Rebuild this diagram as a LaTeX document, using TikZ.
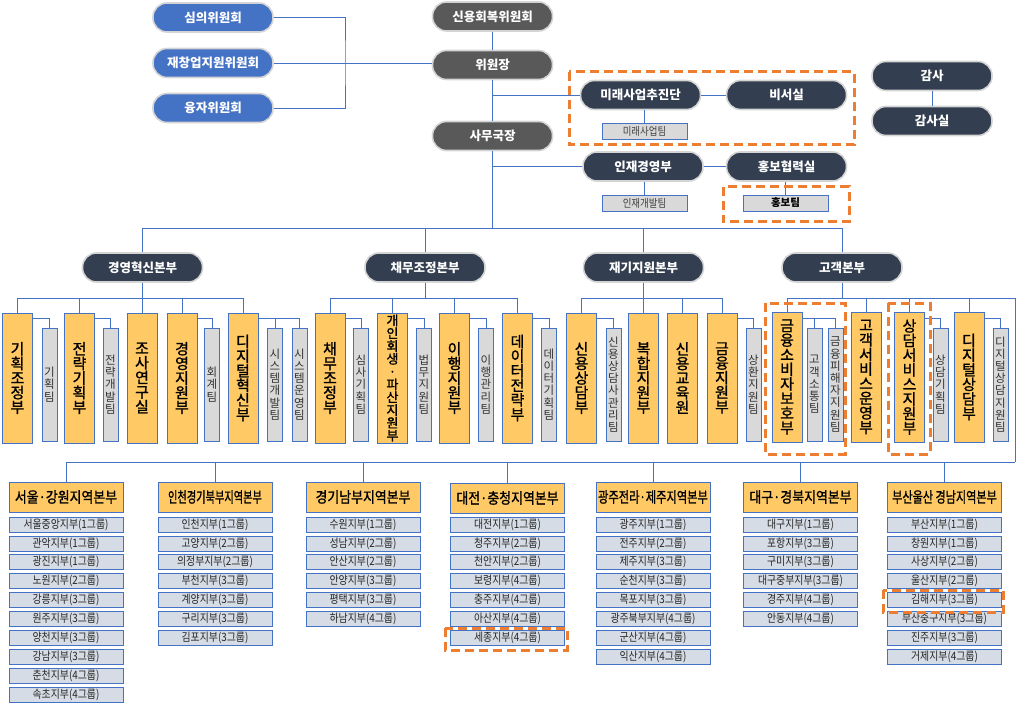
\documentclass[tikz,border=0pt]{standalone}
\usepackage{fontspec}
\newfontfamily\kr{Noto Sans CJK KR}
\newfontfamily\krm[FakeBold=1.2]{Noto Sans CJK KR}
\newfontfamily\krn[FakeStretch=0.86]{Noto Sans CJK KR}
\newcommand\hs[2]{\scalebox{#1}[1]{#2}}
\definecolor{lnblue}{HTML}{4472C4}
\definecolor{pblue}{HTML}{4472C4}
\definecolor{pgray}{HTML}{595959}
\definecolor{pnavy}{HTML}{333F50}
\definecolor{ygold}{HTML}{FFC966}
\definecolor{tgray}{HTML}{D9D9D9}
\definecolor{bgray}{HTML}{D6DCE5}
\definecolor{odash}{HTML}{ED7D31}
\definecolor{pedge}{HTML}{D4D4D4}
\begin{document}
\begin{tikzpicture}[x=1pt,y=-1pt,
 conn/.style={draw=lnblue, line width=0.8pt},
 pill/.style={rectangle, rounded corners=14pt, draw=pedge, line width=1.6pt, minimum width=120pt, minimum height=29pt, inner sep=0pt, text=white, font=\kr\bfseries\fontsize{12.5}{14}\selectfont},
 bluepill/.style={pill, fill=pblue},
 graypill/.style={pill, fill=pgray},
 navypill/.style={pill, fill=pnavy},
 smallteam/.style={rectangle, draw=lnblue, line width=0.8pt, fill=tgray, minimum width=85pt, minimum height=16pt, inner sep=0pt, font=\krn\fontsize{11}{12}\selectfont, text=black!75},
 dept/.style={rectangle, draw=lnblue, line width=0.8pt, fill=ygold, minimum width=30pt, minimum height=130pt, inner sep=0pt, align=center, font=\krm\fontsize{15}{14.6}\selectfont},
 team/.style={rectangle, draw=lnblue, line width=0.8pt, fill=tgray, minimum width=15pt, minimum height=113pt, inner sep=0pt, align=center, font=\kr\fontsize{11.5}{12.2}\selectfont, text=black!80},
 region/.style={rectangle, draw=lnblue, line width=0.8pt, fill=ygold, minimum width=114pt, minimum height=30pt, inner sep=0pt, font=\krm\fontsize{15}{17}\selectfont},
 branch/.style={rectangle, draw=lnblue, line width=0.8pt, fill=bgray, minimum width=114pt, minimum height=15pt, inner sep=0pt, font=\krn\fontsize{11.5}{12}\selectfont, text=black!85},
 odbox/.style={draw=odash, line width=3pt, dash pattern=on 9pt off 5pt},
]
\useasboundingbox (0,0) rectangle (1016,708);

% ---- top level ----
\node[bluepill] (sim) at (213,17.5) {심의위원회};
\node[bluepill] (jae) at (213,63) {재창업지원위원회};
\node[bluepill] (yung) at (213,108) {융자위원회};
\node[graypill] (cred) at (492.5,16.5) {신용회복위원회};
\node[graypill] (chair) at (492.5,65) {위원장};
\node[graypill] (sec) at (492.5,136) {사무국장};
\node[navypill] (fut) at (640.5,95) {미래사업추진단};
\node[navypill] (bis) at (786.5,95) {비서실};
\node[navypill] (aud) at (932,76) {감사};
\node[navypill] (audr) at (932,121) {감사실};
\node[navypill] (hr) at (643,166.5) {인재경영부};
\node[navypill] (pr) at (786.5,166.5) {홍보협력실};
\node[smallteam] (futt) at (644.5,131.5) {미래사업팀};
\node[smallteam] (hrt) at (644.5,203) {인재개발팀};
\node[smallteam, text=black, font=\kr\bfseries\fontsize{10.5}{12}\selectfont] (prt) at (785.5,203) {홍보팀};

\coordinate (cbar) at (345,63);
\draw[conn] (sim.east) -| (cbar) |- (yung.east);
\draw[conn] (jae.east) -- (jae.east -| chair.west);
\draw[conn] (cred) -- (chair);
\draw[conn] (chair) -- (sec);
\coordinate (hq) at (492.5,228);
\draw[conn] (sec) -- (hq);
\draw[conn] (sec.south |- fut.west) -- (fut.west);
\draw[conn] (sec.south |- hr.west) -- (hr.west);
\draw[conn] (fut) -- (bis);
\draw[conn] (futt.north) -- (futt.north |- fut.south);
\draw[conn] (hr) -- (pr);
\draw[conn] (hrt.north) -- (hrt.north |- hr.south);
\draw[conn] (prt.north) -- (prt.north |- pr.south);
\draw[conn] (aud) -- (audr);

% ---- bonbu ----
\node[navypill] (b1) at (142.5,267.5) {경영혁신본부};
\node[navypill] (b2) at (425,267.5) {채무조정본부};
\node[navypill] (b3) at (643.5,267.5) {재기지원본부};
\node[navypill] (b4) at (842,267.5) {고객본부};
\draw[conn] (b1.north |- hq) -- (b4.north |- hq);
\foreach \b in {b1,b2,b3,b4} \draw[conn] (\b.north |- hq) -- (\b.north);

% ---- departments ----
\node[dept] (d11) at (17.5,378) {기\\획\\조\\정\\부};
\node[team] (t11) at (49.5,384.5) {기\\획\\팀};
\node[dept] (d12) at (79.5,378) {전\\략\\기\\획\\부};
\node[team] (t12) at (110.5,384.5) {전\\략\\개\\발\\팀};
\node[dept] (d13) at (142,378) {조\\사\\연\\구\\실};
\node[dept] (d14) at (182,378) {경\\영\\지\\원\\부};
\node[team] (t14) at (212,384.5) {회\\계\\팀};
\node[dept] (d15) at (243,378) {디\\지\\털\\혁\\신\\부};
\node[team] (t15a) at (275,384.5) {시\\스\\템\\개\\발\\팀};
\node[team] (t15b) at (299.5,384.5) {시\\스\\템\\운\\영\\팀};

\node[dept] (d21) at (330,378) {채\\무\\조\\정\\부};
\node[team] (t21) at (361,384.5) {심\\사\\기\\획\\팀};
\node[dept, font=\krm\fontsize{13}{12.8}\selectfont] (d22) at (392.5,378) {개\\인\\회\\생\\·\\파\\산\\지\\원\\부};
\node[team] (t22) at (424,384.5) {법\\무\\지\\원\\팀};
\node[dept] (d23) at (454.5,378) {이\\행\\지\\원\\부};
\node[team] (t23) at (486,384.5) {이\\행\\관\\리\\팀};
\node[dept] (d24) at (517.5,378) {데\\이\\터\\전\\략\\부};
\node[team] (t24) at (549,384.5) {데\\이\\터\\기\\획\\팀};

\node[dept] (d31) at (581.5,378) {신\\용\\상\\담\\부};
\node[team] (t31) at (613.5,384.5) {신\\용\\상\\담\\사\\관\\리\\팀};
\node[dept] (d32) at (643.5,378) {복\\합\\지\\원\\부};
\node[dept] (d33) at (682.5,378) {신\\용\\교\\육\\원};
\node[dept] (d34) at (722,378) {금\\융\\지\\원\\부};
\node[team] (t34) at (753.5,384.5) {상\\환\\지\\원\\팀};

\node[dept] (d41) at (787,377) {금\\융\\소\\비\\자\\보\\호\\부};
\node[team] (t41a) at (814.5,384.5) {고\\객\\소\\통\\팀};
\node[team] (t41b) at (835.5,384.5) {금\\융\\피\\해\\자\\지\\원\\팀};
\node[dept] (d42) at (866,377) {고\\객\\서\\비\\스\\운\\영\\부};
\node[dept] (d43) at (909.5,377) {상\\담\\서\\비\\스\\지\\원\\부};
\node[team] (t43) at (940.5,384.5) {상\\담\\기\\획\\팀};
\node[dept] (d44) at (969,377) {디\\지\\털\\상\\담\\부};
\node[team] (t44) at (1000.5,384.5) {디\\지\\털\\상\\담\\지\\원\\팀};

% branch lines
\coordinate (br) at (0,298);
\coordinate (tl) at (0,318);
\draw[conn] (d11.north |- br) -- (d15.north |- br);
\draw[conn] (b1) -- (b1.south |- br);
\foreach \d in {d11,d12,d13,d14,d15} \draw[conn] (\d.north |- br) -- (\d.north);
\draw[conn] (d21.north |- br) -- (d24.north |- br);
\draw[conn] (b2) -- (b2.south |- br);
\foreach \d in {d21,d22,d23,d24} \draw[conn] (\d.north |- br) -- (\d.north);
\draw[conn] (d31.north |- br) -- (d34.north |- br);
\draw[conn] (b3) -- (b3.south |- br);
\foreach \d in {d31,d32,d33,d34} \draw[conn] (\d.north |- br) -- (\d.north);
\coordinate (redge) at (1015,298);
\coordinate (rbot) at (1015,462);
\draw[conn] (d41.north |- br) -- (redge) -- (rbot);
\draw[conn] (b4) -- (b4.south |- br);
\foreach \d in {d41,d42,d43,d44} \draw[conn] (\d.north |- br) -- (\d.north);

% team connectors
\foreach \d/\t in {d11/t11,d12/t12,d14/t14,d15/t15b,d21/t21,d22/t22,d23/t23,d24/t24,d31/t31,d34/t34,d41/t41b,d43/t43,d44/t44}
  \draw[conn] (\d.east |- tl) -| (\t.north);
\draw[conn] (t15a.north) -- (t15a.north |- tl);
\draw[conn] (t41a.north) -- (t41a.north |- tl);

% ---- regions ----
\node[region] (r1) at (66,497) {\hs{0.86}{서울·강원지역본부}};
\node[region] (r2) at (215,497) {\hs{0.68}{인천경기북부지역본부}};
\node[region] (r3) at (363,497) {\hs{0.86}{경기남부지역본부}};
\node[region] (r4) at (507.5,498) {\hs{0.86}{대전·충청지역본부}};
\node[region] (r5) at (653,497) {\hs{0.75}{광주전라·제주지역본부}};
\node[region] (r6) at (800.5,497) {\hs{0.86}{대구·경북지역본부}};
\node[region] (r7) at (944.5,497) {\hs{0.74}{부산울산 경남지역본부}};
\draw[conn] (r1.north |- rbot) -- (rbot);
\foreach \r in {r1,r2,r3,r4,r5,r6,r7} \draw[conn] (\r.north |- rbot) -- (\r.north);

\foreach \t [count=\i from 0] in {서울중앙지부(1그룹),관악지부(1그룹),광진지부(1그룹),노원지부(2그룹),강릉지부(3그룹),원주지부(3그룹),양천지부(3그룹),강남지부(3그룹),춘천지부(4그룹),속초지부(4그룹)}
  \node[branch] (r1b\i) at (66,{524.5+18.9*\i}) {\t};
\foreach \t [count=\i from 0] in {인천지부(1그룹),고양지부(2그룹),의정부지부(2그룹),부천지부(3그룹),계양지부(3그룹),구리지부(3그룹),김포지부(3그룹)}
  \node[branch] (r2b\i) at (215,{524.5+18.9*\i}) {\t};
\foreach \t [count=\i from 0] in {수원지부(1그룹),성남지부(2그룹),안산지부(2그룹),안양지부(3그룹),평택지부(3그룹),하남지부(4그룹)}
  \node[branch] (r3b\i) at (363,{524.5+18.9*\i}) {\t};
\foreach \t [count=\i from 0] in {대전지부(1그룹),청주지부(2그룹),천안지부(2그룹),보령지부(4그룹),충주지부(4그룹),아산지부(4그룹),세종지부(4그룹)}
  \node[branch] (r4b\i) at (507.5,{524.5+18.9*\i}) {\t};
\foreach \t [count=\i from 0] in {광주지부(1그룹),전주지부(2그룹),제주지부(3그룹),순천지부(3그룹),목포지부(3그룹),광주북부지부(4그룹),군산지부(4그룹),익산지부(4그룹)}
  \node[branch] (r5b\i) at (653,{524.5+18.9*\i}) {\t};
\foreach \t [count=\i from 0] in {대구지부(1그룹),포항지부(3그룹),구미지부(3그룹),대구중부지부(3그룹),경주지부(4그룹),안동지부(4그룹)}
  \node[branch] (r6b\i) at (800.5,{524.5+18.9*\i}) {\t};
\foreach \t [count=\i from 0] in {부산지부(1그룹),창원지부(1그룹),사상지부(2그룹),울산지부(2그룹),김해지부(3그룹),부산중구지부(3그룹),진주지부(3그룹),거제지부(4그룹)}
  \node[branch] (r7b\i) at (944.5,{524.5+18.9*\i}) {\t};

% ---- orange highlight boxes ----
\draw[odbox] (569,72) rectangle (854,145);
\draw[odbox] (723,187) rectangle (849,222);
\draw[odbox] (765,303) rectangle (845,454);
\draw[odbox] (888,303) rectangle (930,454);
\draw[odbox] (445,628) rectangle (567,650);
\draw[odbox] (883,590) rectangle (1003,612);
\end{tikzpicture}
\end{document}
